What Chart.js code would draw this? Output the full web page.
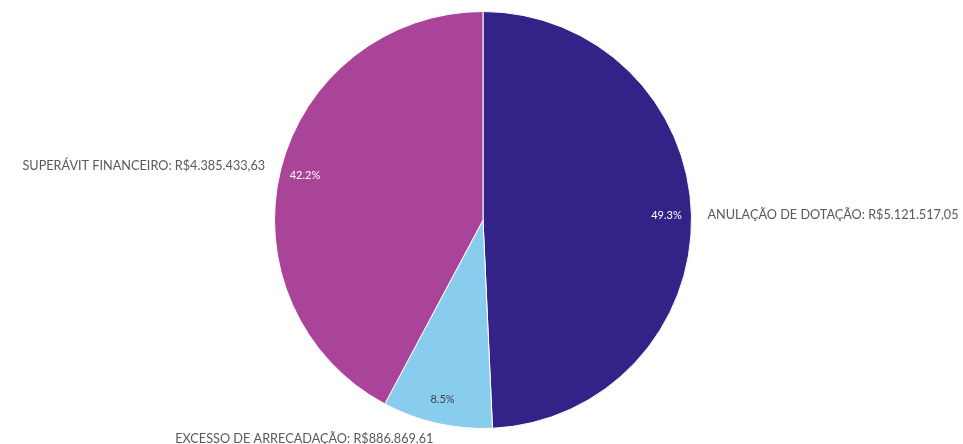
<!DOCTYPE html>
<html>
<head>
<meta charset="utf-8">
<script src="https://cdn.jsdelivr.net/npm/chart.js@4"></script>
<style>
  html, body { margin: 0; padding: 0; background: #fff; }
  #wrap { width: 963px; height: 444px; position: relative; }
</style>
</head>
<body>
<div id="wrap"><canvas id="myChart"></canvas></div>
<script>
// Chart data
const categories = ['ANULAÇÃO DE DOTAÇÃO', 'EXCESSO DE ARRECADAÇÃO', 'SUPERÁVIT FINANCEIRO'];
const values = [5121517.05, 886869.61, 4385433.63];
const sliceColors = ['#332288', '#88ccee', '#aa4499'];
const pctColors = ['#ffffff', '#404040', '#ffffff'];

// format like R$5.121.517,05
function formatBRL(v) {
    const parts = v.toFixed(2).split('.');
    const intPart = parts[0].replace(/\B(?=(\d{3})+(?!\d))/g, '.');
    return 'R$' + intPart + ',' + parts[1];
}

const total = values.reduce((a, b) => a + b, 0);

// Draw the percentage inside each slice and the label outside
const pieLabels = {
    id: 'pieLabels',
    afterDatasetsDraw(chart) {
        const ctx = chart.ctx;
        const meta = chart.getDatasetMeta(0);
        ctx.save();
        ctx.textBaseline = 'middle';
        meta.data.forEach((arc, i) => {
            const p = arc.getProps(['x', 'y', 'startAngle', 'endAngle', 'outerRadius']);
            const mid = (p.startAngle + p.endAngle) / 2;
            const cx = Math.cos(mid), cy = Math.sin(mid);

            // percentage
            const pct = (values[i] / total * 100).toFixed(1) + '%';
            ctx.font = '11px Lato';
            ctx.fillStyle = pctColors[i];
            ctx.textAlign = 'center';
            const r1 = p.outerRadius * 0.88;
            ctx.fillText(pct, p.x + cx * r1, p.y + cy * r1);

            // outer label
            const r2 = p.outerRadius + 16;
            ctx.font = '12.7px Lato';
            ctx.fillStyle = '#595959';
            ctx.textAlign = cx >= 0 ? 'left' : 'right';
            ctx.fillText(categories[i] + ': ' + formatBRL(values[i]), p.x + cx * r2, p.y + cy * r2);
        });
        ctx.restore();
    }
};

const ctx = document.getElementById('myChart').getContext('2d');
window.myChart = new Chart(ctx, {
    type: 'pie',
    data: {
        labels: categories,
        datasets: [{
            data: values,
            backgroundColor: sliceColors,
            borderColor: '#ffffff',
            borderWidth: 1
        }]
    },
    options: {
        responsive: true,
        maintainAspectRatio: false,
        animation: false,
        layout: {
            padding: { top: 11, bottom: 15, left: 3, right: 0 }
        },
        plugins: {
            legend: { display: false },
            tooltip: { enabled: false }
        }
    },
    plugins: [pieLabels]
});
</script>
</body>
</html>
